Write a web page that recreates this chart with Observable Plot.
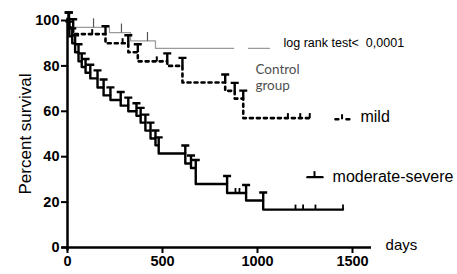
<!DOCTYPE html>
<html>
<head>
<meta charset="utf-8">
<script src="https://cdn.jsdelivr.net/npm/d3@7"></script>
<script src="https://cdn.jsdelivr.net/npm/@observablehq/plot@0.6"></script>
<style>
  html, body { margin: 0; padding: 0; background: #fff; }
  svg { font-family: "Liberation Sans", Arial, sans-serif; }
</style>
</head>
<body>
<div id="chart"></div>
<script>
// ---- data ----
const ctrlDays = [0, 15, 221, 332, 463, 874];
const ctrlSurv = [100, 97, 94.7, 91, 87.7, 87.7];
const ctrlCensorDays = [137, 284, 421];

const mildDays = [0, 8, 30, 200, 320, 370, 525, 605, 830, 880, 925, 1280];
const mildSurv = [100, 97, 94, 90, 86, 82, 80, 72.7, 69, 65.6, 57, 57];
const mildCensorDays = [130, 290, 470, 1160, 1225, 1275];

const modDays = [0, 5, 10, 25, 40, 58, 75, 95, 120, 158, 190, 226, 280, 320, 363, 385, 410, 437, 463, 480, 620, 650, 675, 840, 940, 1030, 1450];
const modSurv = [100, 96, 93, 90, 86, 82, 79.5, 77, 74.5, 70.5, 67, 65, 62.5, 60, 58, 55, 51.5, 48, 45, 41.4, 37, 35, 28, 24, 20.7, 16.7, 16.7];
const modCensorDays = [884, 905, 1200, 1240, 1305, 1450];

const xTicks = [0, 500, 1000, 1500];
const yTicks = [0, 20, 40, 60, 80, 100];

const labels = {
  logrank: "log rank test<  0,0001",
  control: "Control\ngroup",
  mild: "mild",
  moderate: "moderate-severe",
  xLabel: "days",
  yLabel: "Percent survival"
};

// ---- helpers ----
const toPts = (days, surv) => days.map((d, i) => ({d, s: surv[i]}));
const survAt = (days, surv, t) => {
  let v = surv[0];
  for (let i = 0; i < days.length; i++) if (days[i] <= t) v = surv[i];
  return v;
};
const censorPts = (cd, days, surv) => cd.map(d => ({d, s: survAt(days, surv, d)}));
// T caps at each drop: anchored at the previous level
const capPts = (days, surv) => days.slice(1, -1).map((d, i) => ({d, s: surv[i]}));

const tSymbol = { draw(ctx) { ctx.moveTo(-4, -8); ctx.lineTo(4, -8); ctx.moveTo(0, -8); ctx.lineTo(0, 0); } };
const tickSym = (h) => ({ draw(ctx) { ctx.moveTo(0, 0); ctx.lineTo(0, -h); } });

const ctrl = toPts(ctrlDays, ctrlSurv);
const mild = toPts(mildDays, mildSurv);
const mod = toPts(modDays, modSurv);

const chart = Plot.plot({
  width: 457,
  height: 274,
  marginLeft: 67,
  marginRight: 86,
  marginTop: 20,
  marginBottom: 27,
  x: {domain: [0, 1600]},
  y: {domain: [0, 100]},
  style: {fontFamily: "'Liberation Sans', Arial, sans-serif", overflow: "visible"},
  marks: [
    // axes
    Plot.axisY({ticks: yTicks, tickSize: 6, tickPadding: 2, strokeWidth: 2, fontSize: 14.5, fontWeight: "bold", label: null, fill: "#000", tickFormat: d => String(d)}),
    Plot.axisX({ticks: xTicks, tickSize: 6, tickPadding: 2, strokeWidth: 2, fontSize: 14.5, fontWeight: "bold", label: null, fill: "#000", tickFormat: d => String(d)}),
    Plot.ruleX([0], {y1: -1.5, y2: 101, stroke: "#000", strokeWidth: 2.5}),
    Plot.ruleY([0], {x1: -30, x2: 1600, stroke: "#000", strokeWidth: 2.5}),

    // control group
    Plot.line(ctrl, {x: "d", y: "s", curve: "step-after", stroke: "#9a9a9a", strokeWidth: 1.2}),
    Plot.dot(censorPts(ctrlCensorDays, ctrlDays, ctrlSurv), {x: "d", y: "s", symbol: tickSym(9), stroke: "#555", strokeWidth: 1.2, fill: "none"}),

    // mild
    Plot.line(mild, {x: "d", y: "s", curve: "step-after", stroke: "#000", strokeWidth: 2.6, strokeDasharray: "3,4"}),
    Plot.dot(capPts(mildDays, mildSurv), {x: "d", y: "s", symbol: tSymbol, stroke: "#000", strokeWidth: 2.4, fill: "none"}),
    Plot.dot(censorPts(mildCensorDays, mildDays, mildSurv), {x: "d", y: "s", symbol: tickSym(5), stroke: "#000", strokeWidth: 2, fill: "none"}),

    // moderate-severe
    Plot.line(mod, {x: "d", y: "s", curve: "step-after", stroke: "#000", strokeWidth: 2.4}),
    Plot.dot(capPts(modDays, modSurv), {x: "d", y: "s", symbol: tSymbol, stroke: "#000", strokeWidth: 2.4, fill: "none"}),
    Plot.dot(censorPts(modCensorDays, modDays, modSurv), {x: "d", y: "s", symbol: tickSym(5), stroke: "#000", strokeWidth: 1.8, fill: "none"}),

    // legend samples
    Plot.line([{d: 953, s: 87.7}, {d: 1063, s: 87.7}], {x: "d", y: "s", stroke: "#9a9a9a", strokeWidth: 1.2}),
    Plot.line([{d: 1410, s: 56.5}, {d: 1485, s: 56.5}], {x: "d", y: "s", stroke: "#000", strokeWidth: 2.4, strokeDasharray: "3,8"}),
    Plot.dot([{d: 1445, s: 56.5}], {x: "d", y: "s", symbol: tickSym(5), stroke: "#000", strokeWidth: 2, fill: "none"}),
    Plot.line([{d: 1263, s: 31}, {d: 1342, s: 31}], {x: "d", y: "s", stroke: "#000", strokeWidth: 2.4}),
    Plot.dot([{d: 1300, s: 31}], {x: "d", y: "s", symbol: tickSym(6), stroke: "#000", strokeWidth: 2, fill: "none"}),

    // annotations
    Plot.text([labels.logrank], {x: 1137, y: 89.9, textAnchor: "start", fontSize: 12.5, fill: "#000", letterSpacing: "-0.4px"}),
    Plot.text([labels.control], {x: 989, y: 75.3, textAnchor: "start", fontSize: 13.5, lineHeight: 1.2, fill: "#505050", fontFamily: "Lato, 'Open Sans', sans-serif"}),
    Plot.text([labels.mild], {x: 1542, y: 57.5, textAnchor: "start", fontSize: 16, fill: "#000", letterSpacing: "-0.3px"}),
    Plot.text([labels.moderate], {x: 1395, y: 31.3, textAnchor: "start", fontSize: 16, fill: "#000", letterSpacing: "-0.4px"}),
    Plot.text([labels.xLabel], {x: 1674, y: 0.9, textAnchor: "start", fontSize: 15, fill: "#000", letterSpacing: "-0.3px"}),
    Plot.text([labels.yLabel], {frameAnchor: "left", textAnchor: "middle", dx: -42, rotate: -90, fontSize: 17, fill: "#000", letterSpacing: "1px"})
  ]
});
document.getElementById("chart").appendChild(chart);
</script>
</body>
</html>
